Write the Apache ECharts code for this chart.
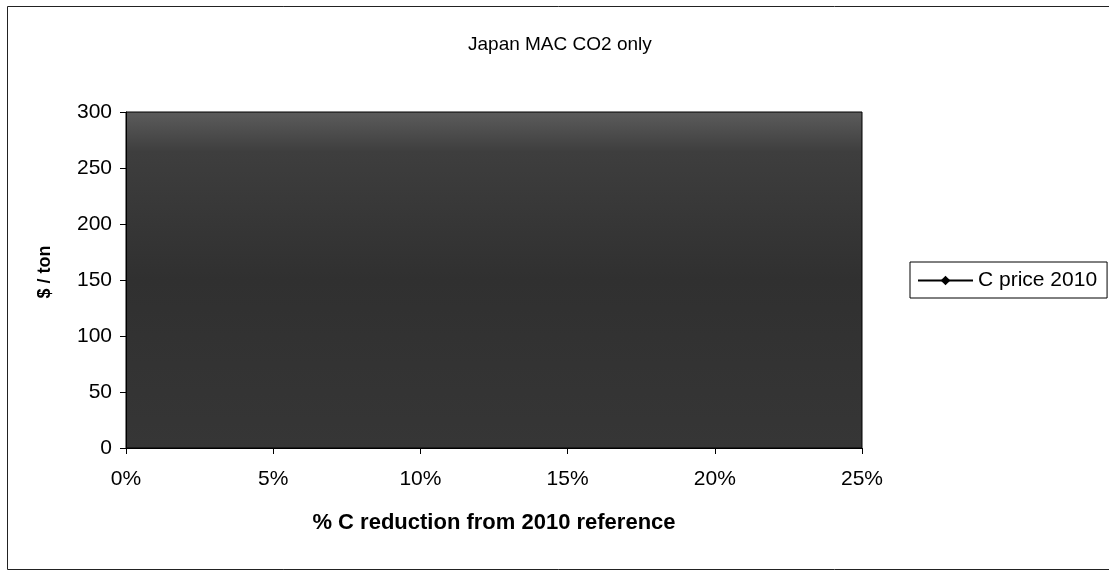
<!DOCTYPE html>
<html>
<head>
<meta charset="utf-8">
<script src="https://cdn.jsdelivr.net/npm/echarts@6/dist/echarts.min.js"></script>
<style>
  html, body { margin: 0; padding: 0; background: #fff; }
  #chart { width: 1109px; height: 571px; }
</style>
</head>
<body>
<div id="chart"></div>
<script>
// Chart text
const chartTitle = 'Japan MAC CO2 only';
const seriesName = 'C price 2010';
const xAxisName = '% C reduction from 2010 reference';
const yAxisName = '$ / ton';

// Axis ranges and tick steps
const xRange = [0, 0.25];
const xStep = 0.05;
const yRange = [0, 300];
const yStep = 50;

// Series values (reduction share, price); the curve is not legible on the dark plot field
const reductionShare = [];
const carbonPrice = [];

const seriesData = reductionShare.map((x, i) => [x, carbonPrice[i]]);

const font = '"Liberation Sans", Arial, sans-serif';
const chart = echarts.init(document.getElementById('chart'), null, { renderer: 'canvas' });

chart.setOption({
  backgroundColor: '#fff',
  animation: false,
  title: {
    text: chartTitle,
    left: 468,
    top: 35,
    padding: 0,
    textStyle: { fontFamily: font, fontSize: 19, fontWeight: 'normal', color: '#000' }
  },
  graphic: [{
    type: 'rect',
    shape: { x: 7.5, y: 6.5, width: 1110, height: 563 },
    style: { fill: 'none', stroke: '#222', lineWidth: 1 },
    silent: true,
    z: -1
  }],
  legend: {
    left: 910,
    top: 262,
    orient: 'vertical',
    data: [seriesName],
    itemWidth: 55,
    itemHeight: 12,
    itemGap: 0,
    padding: [8, 10, 7, 7],
    borderColor: '#000',
    borderWidth: 1,
    textStyle: { fontFamily: font, fontSize: 21, color: '#000' }
  },
  grid: {
    left: 126,
    top: 112,
    width: 736,
    height: 336,
    show: true,
    borderColor: '#000',
    borderWidth: 1,
    backgroundColor: {
      type: 'linear', x: 0, y: 0, x2: 0, y2: 1,
      colorStops: [
        { offset: 0, color: '#5c5c5c' },
        { offset: 0.12, color: '#3e3e3e' },
        { offset: 0.5, color: '#303030' },
        { offset: 1, color: '#363636' }
      ]
    }
  },
  xAxis: {
    type: 'value',
    min: xRange[0],
    max: xRange[1],
    interval: xStep,
    name: xAxisName,
    nameLocation: 'middle',
    nameGap: 64,
    nameTextStyle: { fontFamily: font, fontSize: 22, fontWeight: 'bold', color: '#000' },
    axisLine: { show: true, lineStyle: { color: '#000', width: 1 } },
    axisTick: { show: true, length: 6, lineStyle: { color: '#000' } },
    axisLabel: {
      fontFamily: font, fontSize: 21, color: '#000', margin: 21,
      formatter: v => Math.round(v * 100) + '%'
    },
    splitLine: { show: false }
  },
  yAxis: {
    type: 'value',
    min: yRange[0],
    max: yRange[1],
    interval: yStep,
    name: yAxisName,
    nameLocation: 'middle',
    nameGap: 72,
    nameTextStyle: {
      fontFamily: font, fontSize: 18, fontWeight: 'bold', color: '#000',
      padding: [0, 0, 0, 16]
    },
    axisLine: { show: true, lineStyle: { color: '#000', width: 1 } },
    axisTick: { show: true, length: 6, lineStyle: { color: '#000' } },
    axisLabel: { fontFamily: font, fontSize: 21, color: '#000', margin: 14 },
    splitLine: { show: false }
  },
  series: [{
    name: seriesName,
    type: 'line',
    data: seriesData,
    symbol: 'diamond',
    symbolSize: 12,
    itemStyle: { color: '#000' },
    lineStyle: { color: '#000', width: 1.5 }
  }]
});
</script>
</body>
</html>
